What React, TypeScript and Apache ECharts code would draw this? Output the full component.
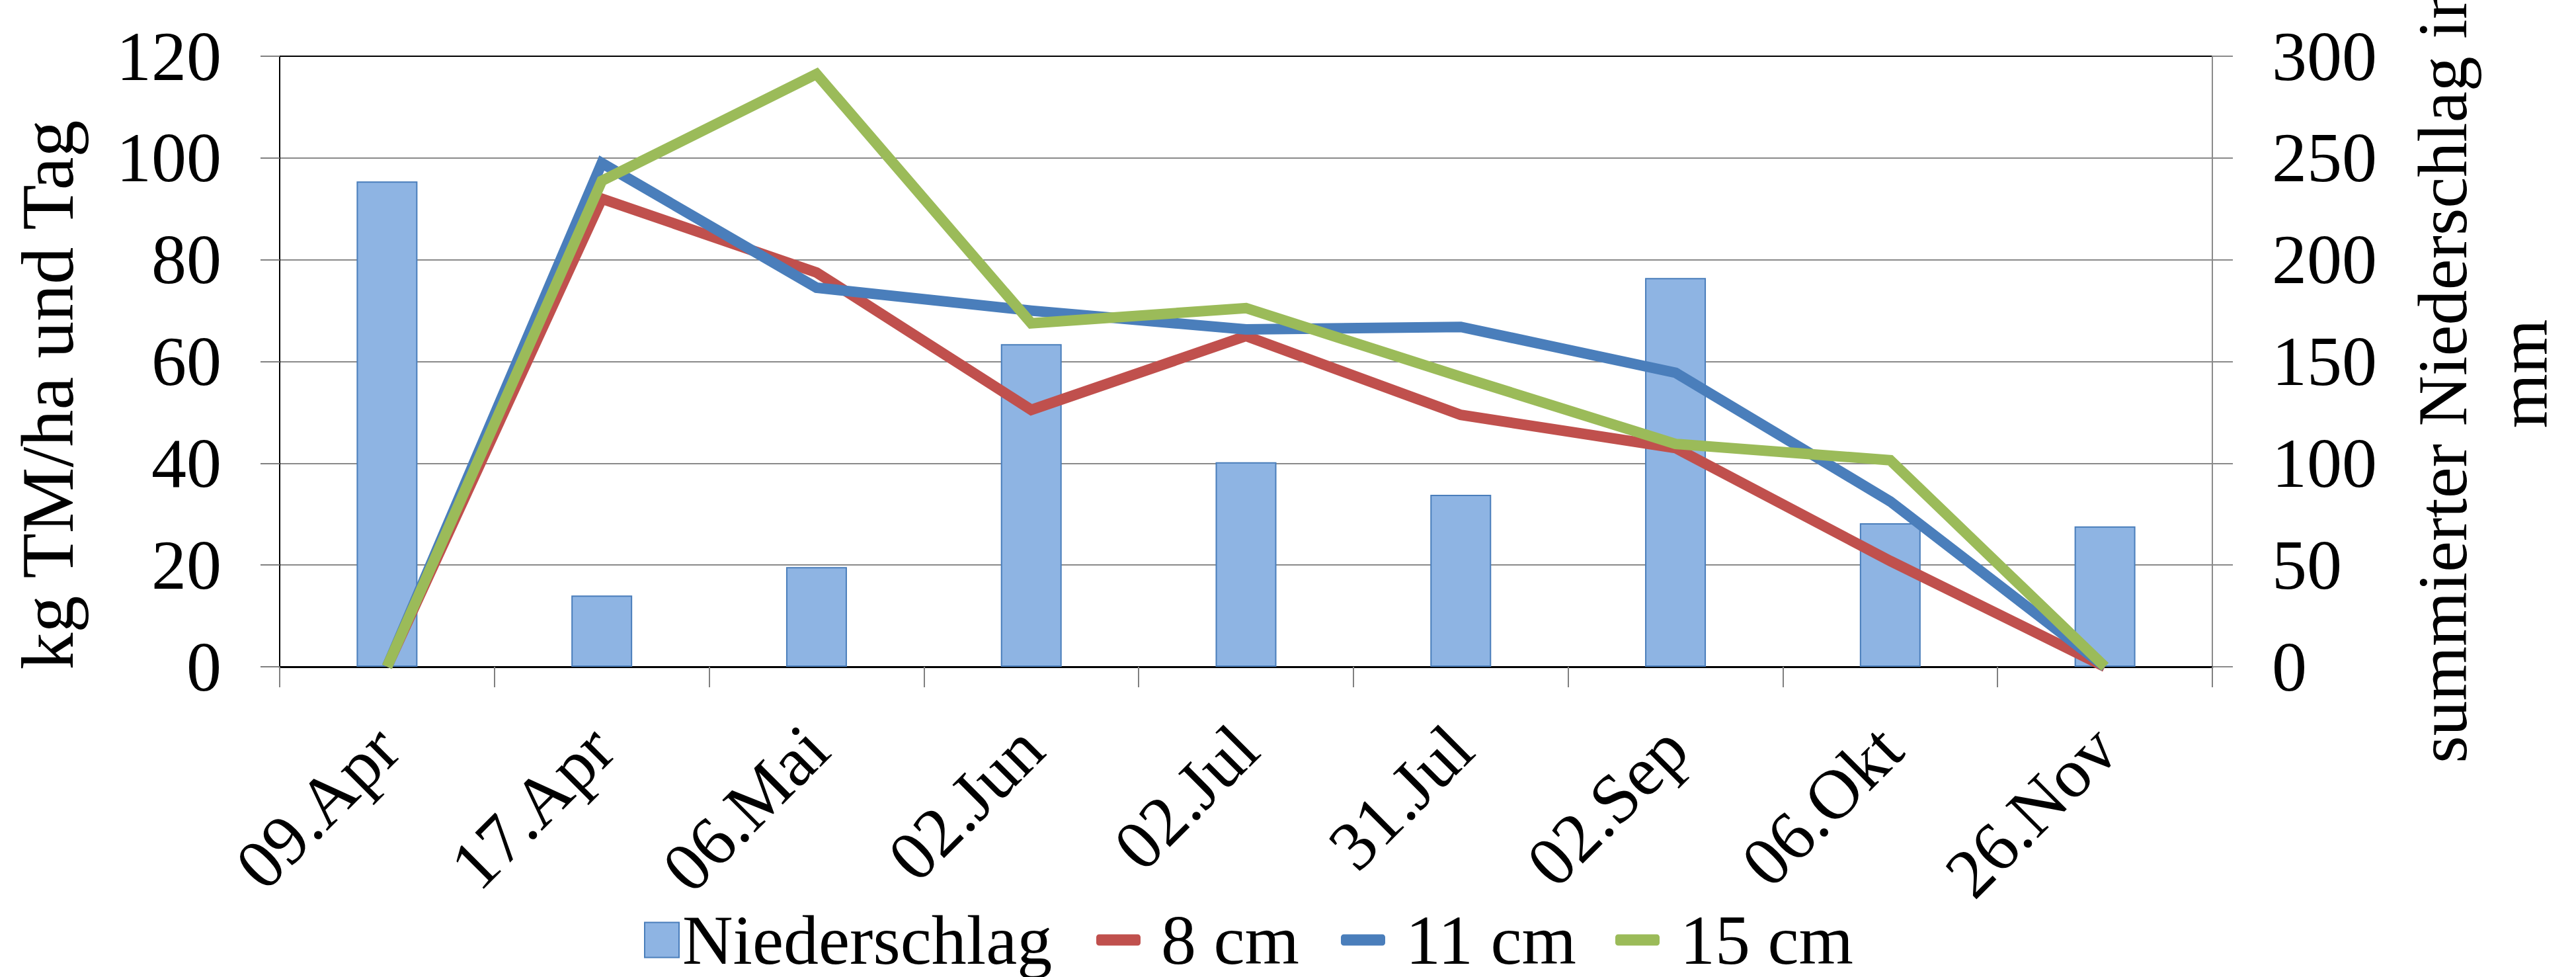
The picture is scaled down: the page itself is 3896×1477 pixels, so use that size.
import React, { useEffect, useRef } from "react";
import * as echarts from "echarts";

const categories = ["09.Apr", "17.Apr", "06.Mai", "02.Jun", "02.Jul", "31.Jul", "02.Sep", "06.Okt", "26.Nov"];
const niederschlag = [238.5, 35, 49, 158.5, 100.5, 84.5, 191, 70.5, 69];
const cm8 = [0, 92, 77.5, 50.5, 65, 49.5, 43, 20.8, 0];
const cm11 = [0, 99, 74.5, 70, 66.3, 66.8, 57.8, 32.5, 0];
const cm15 = [0, 95.5, 116.5, 67.5, 70.5, 57, 43.8, 40.6, 0];
const leftTicks = { min: 0, max: 120, interval: 20 };
const rightTicks = { min: 0, max: 300, interval: 50 };

const FONT = "'Liberation Serif', 'Times New Roman', serif";
const FS = 106;

export default function App() {
  const ref = useRef<HTMLDivElement>(null);
  useEffect(() => {
    document.body.style.margin = "0";
    const chart = echarts.init(ref.current!, null, { renderer: "svg" });
    const textStyle = { fontSize: FS, fontFamily: FONT, color: "#000", lineHeight: 106 };
    const lineText = { ...textStyle, padding: [0, 0, 0, 26] };
    chart.setOption({
      animation: false,
      backgroundColor: "#fff",
      grid: { left: 423, right: 550, top: 85, bottom: 469 },
      legend: [
        { data: ["Niederschlag"], left: 974, top: 1368, padding: 0, itemWidth: 52, itemHeight: 53, icon: "rect", textStyle },
        { data: ["8 cm"], left: 1658, top: 1368, padding: 0, itemWidth: 67, itemHeight: 17, icon: "roundRect", textStyle: lineText },
        { data: ["11 cm"], left: 2028, top: 1368, padding: 0, itemWidth: 67, itemHeight: 17, icon: "roundRect", textStyle: lineText },
        { data: ["15 cm"], left: 2443, top: 1368, padding: 0, itemWidth: 67, itemHeight: 17, icon: "roundRect", textStyle: lineText },
      ],
      xAxis: {
        type: "category",
        data: categories,
        boundaryGap: true,
        axisLine: { lineStyle: { color: "#000", width: 3 } },
        axisTick: { show: true, interval: 0, length: 31, lineStyle: { color: "#808080", width: 2 } },
        axisLabel: { interval: 0, rotate: 45, margin: 107, fontSize: FS, fontFamily: FONT, color: "#000" },
        splitLine: { show: false },
      },
      yAxis: [
        {
          type: "value",
          position: "left",
          ...leftTicks,
          axisLine: { show: true, lineStyle: { color: "#000", width: 2 } },
          axisTick: { show: true, length: 29, lineStyle: { color: "#808080", width: 2 } },
          axisLabel: { margin: 88, fontSize: FS, fontFamily: FONT, color: "#000" },
          splitLine: {
            show: true,
            lineStyle: { color: ["#8a8a8a", "#8a8a8a", "#8a8a8a", "#8a8a8a", "#8a8a8a", "#8a8a8a", "#000"], width: 2 },
          },
        },
        {
          type: "value",
          position: "right",
          ...rightTicks,
          axisLine: { show: true, lineStyle: { color: "#8a8a8a", width: 2 } },
          axisTick: { show: true, length: 31, lineStyle: { color: "#8a8a8a", width: 2 } },
          axisLabel: { margin: 90, fontSize: FS, fontFamily: FONT, color: "#000" },
          splitLine: { show: false },
        },
      ],
      graphic: [
        {
          type: "text",
          x: 72,
          y: 597,
          rotation: Math.PI / 2,
          style: { text: "kg TM/ha und Tag", fontSize: 112, fontFamily: FONT, fill: "#000", align: "center", verticalAlign: "middle" },
        },
        {
          type: "text",
          x: 3755,
          y: 565,
          rotation: Math.PI / 2,
          style: {
            text: "summierter Niederschlag in\nmm",
            fontSize: FS,
            fontFamily: FONT,
            fill: "#000",
            align: "center",
            verticalAlign: "middle",
            lineHeight: 122,
          },
        },
      ],
      series: [
        {
          name: "Niederschlag",
          type: "bar",
          yAxisIndex: 1,
          data: niederschlag,
          barWidth: 92,
          itemStyle: { color: "#8EB4E3", borderColor: "#4A7EBB", borderWidth: 2 },
        },
        {
          name: "8 cm",
          type: "line",
          data: cm8,
          symbol: "none",
          itemStyle: { color: "#C0504D" },
          lineStyle: { color: "#C0504D", width: 16, join: "miter" },
        },
        {
          name: "11 cm",
          type: "line",
          data: cm11,
          symbol: "none",
          itemStyle: { color: "#4A7EBB" },
          lineStyle: { color: "#4A7EBB", width: 16, join: "miter" },
        },
        {
          name: "15 cm",
          type: "line",
          data: cm15,
          symbol: "none",
          itemStyle: { color: "#9BBB59" },
          lineStyle: { color: "#9BBB59", width: 16, join: "miter" },
        },
      ],
    });
    return () => chart.dispose();
  }, []);
  return <div ref={ref} style={{ width: 3896, height: 1477 }} />;
}
